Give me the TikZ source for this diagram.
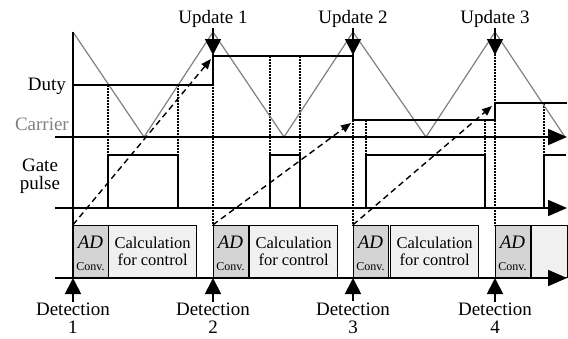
\documentclass[tikz,border=0pt]{standalone}
\usepackage{fontspec}
\setmainfont{Liberation Serif}
\newfontfamily\timesfont{Liberation Serif}
\usetikzlibrary{arrows.meta, positioning}

\begin{document}
\begin{tikzpicture}[x=1pt, y=-1pt, font=\timesfont\fontsize{19}{18}\selectfont]
    \tikzstyle{axis} = [line width=1.8pt, -{Triangle[length=19pt, width=16pt]}]
    \tikzstyle{carrier} = [draw=black!50, line width=1.2pt]
    \tikzstyle{duty} = [line width=1.4pt]
    \tikzstyle{gate} = [line width=1.4pt]
    \tikzstyle{guide} = [dash pattern=on 1.5pt off 1.5pt, line width=1.1pt]
    \tikzstyle{transfer} = [dash pattern=on 6pt off 4pt, line width=1.4pt, -{Triangle[length=10pt, width=8pt]}]
    \tikzstyle{event} = [line width=1.8pt, -{Triangle[length=16pt, width=16pt]}]
    \tikzstyle{adbox} = [rectangle, draw, line width=1.2pt, fill=black!17, minimum width=35pt, minimum height=52pt, anchor=south west, inner sep=0pt]
    \tikzstyle{calcbox} = [rectangle, draw, line width=1.2pt, fill=black!6, minimum height=52pt, anchor=south west, inner sep=0pt, align=center, font=\timesfont\fontsize{16.5}{17}\selectfont]
    \tikzstyle{adtext} = [anchor=base, inner sep=0pt, font=\timesfont\fontsize{19}{19}\selectfont\itshape]
    \tikzstyle{convtext} = [anchor=base, inner sep=0pt, font=\timesfont\fontsize{12}{12}\selectfont]
    \tikzstyle{label} = [align=center, inner sep=1pt]

    \useasboundingbox (0,0) rectangle (568,338);

    % dotted guides
    \draw [guide] (108,85) -- (108,155);
    \draw [guide] (178,85) -- (178,155);
    \draw [guide] (270,56) -- (270,155);
    \draw [guide] (300,56) -- (300,155);
    \draw [guide] (366,120) -- (366,155);
    \draw [guide] (485,120) -- (485,155);
    \draw [guide] (544,103) -- (544,155);
    \draw [guide] (213,54) -- (213,226);
    \draw [guide] (353,54) -- (353,226);
    \draw [guide] (495,54) -- (495,226);

    % carrier, duty and gate pulse
    \draw [carrier] (73,32) -- (144,137) -- (213,32) -- (284,137) -- (353,32) -- (426,137) -- (495,32) -- (565,137);
    \draw [duty] (73,85) -- (213,85) -- (213,56) -- (353,56) -- (353,120) -- (495,120) -- (495,103) -- (567,103);
    \draw [gate] (108,208) -- (108,155) -- (178,155) -- (178,208);
    \draw [gate] (270,208) -- (270,155) -- (300,155) -- (300,208);
    \draw [gate] (366,208) -- (366,155) -- (485,155) -- (485,208);
    \draw [gate] (544,208) -- (544,155) -- (566,155);

    % processing boxes
    \node [adbox] (ad1) at (73,278) {};
    \node [calcbox, minimum width=88pt] (calc1) at (108,278) {Calculation\\for control};
    \node [adbox] (ad2) at (213,278) {};
    \node [calcbox, minimum width=88pt] (calc2) at (249,278) {Calculation\\for control};
    \node [adbox] (ad3) at (353,278) {};
    \node [calcbox, minimum width=88pt] (calc3) at (390,278) {Calculation\\for control};
    \node [adbox] (ad4) at (495,278) {};
    \node [calcbox, minimum width=36pt] (calc4) at (531,278) {};
    \node [adtext] (adt1) at (90.5,248) {AD};
    \node [convtext] (cv1) at (90.5,270) {Conv.};
    \node [adtext] (adt2) at (230.5,248) {AD};
    \node [convtext] (cv2) at (230.5,270) {Conv.};
    \node [adtext] (adt3) at (370.5,248) {AD};
    \node [convtext] (cv3) at (370.5,270) {Conv.};
    \node [adtext] (adt4) at (512.5,248) {AD};
    \node [convtext] (cv4) at (512.5,270) {Conv.};

    % axes
    \draw [axis] (55,137) -- (567,137);
    \draw [axis] (55,208) -- (567,208);
    \draw [axis] (55,278) -- (567,278);
    \draw [line width=1.8pt] (73,32) -- (73,278);

    % signal names
    \node [anchor=base east, inner sep=0pt] (duty) at (66,90) {Duty};
    \node [anchor=base east, inner sep=0pt, text=black!50] (carrier) at (69,130) {Carrier};
    \node [label] (gatepulse) at (40,176) {Gate\\pulse};

    % detection and update instants
    \node [label] (det1) at (73,318) {Detection\\1};
    \node [label] (det2) at (213,318) {Detection\\2};
    \node [label] (det3) at (353,318) {Detection\\3};
    \node [label] (det4) at (495,318) {Detection\\4};
    \draw [event] (det1.north) -- (ad1.south west);
    \draw [event] (det2.north) -- (ad2.south west);
    \draw [event] (det3.north) -- (ad3.south west);
    \draw [event] (det4.north) -- (ad4.south west);

    \node [label] (upd1) at (213,18.5) {Update 1};
    \node [label] (upd2) at (353,18.5) {Update 2};
    \node [label] (upd3) at (495,18.5) {Update 3};
    \coordinate (u1) at (213,55);
    \coordinate (u2) at (353,55);
    \coordinate (u3) at (495,55);
    \draw [event] (upd1.south) -- (u1);
    \draw [event] (upd2.south) -- (u2);
    \draw [event] (upd3.south) -- (u3);

    % dashed transfer from detection to update
    \coordinate (t1) at (211,59);
    \coordinate (t2) at (351,123);
    \coordinate (t3) at (492,106);
    \draw [transfer] (ad1.north west) -- (t1);
    \draw [transfer] (ad2.north west) -- (t2);
    \draw [transfer] (ad3.north west) -- (t3);
\end{tikzpicture}
\end{document}
